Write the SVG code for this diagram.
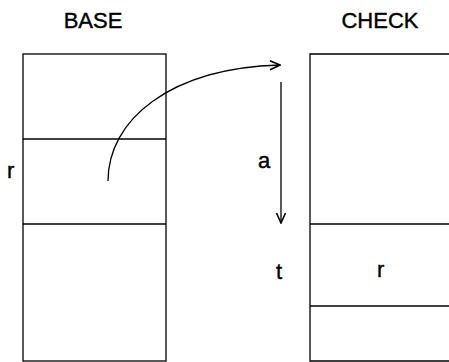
<svg xmlns="http://www.w3.org/2000/svg" width="449" height="362" viewBox="0 0 449 362">
<style>
.ln{fill:none;stroke:#000;stroke-width:1.3}
.tx{font-family:"Liberation Sans",Arial,sans-serif;font-size:22px;fill:#000;stroke:#000;stroke-width:0.4}
</style>
<defs>
<marker id="ah" viewBox="0 0 12 12" refX="11" refY="6" markerWidth="12" markerHeight="12" markerUnits="userSpaceOnUse" orient="auto">
<path d="M1,1.5 L11,6 L1,10.5" fill="none" stroke="#000" stroke-width="1.6"/>
</marker>
</defs>
<rect width="449" height="362" fill="#fff"/>
<g id="base">
<rect class="ln" x="23" y="54" width="143" height="307"/>
<line class="ln" x1="23" y1="139" x2="166" y2="139"/>
<line class="ln" x1="23" y1="224" x2="166" y2="224"/>
<text class="tx" x="93" y="28" text-anchor="middle">BASE</text>
<text class="tx" x="7" y="178">r</text>
</g>
<g id="check">
<path class="ln" d="M449,54 H310 V361 H449"/>
<line class="ln" x1="310" y1="224" x2="449" y2="224"/>
<line class="ln" x1="310" y1="306" x2="449" y2="306"/>
<text class="tx" x="380" y="28" text-anchor="middle">CHECK</text>
<text class="tx" x="377" y="277">r</text>
</g>
<g id="labels">
<text class="tx" x="258" y="168">a</text>
<text class="tx" x="276" y="279">t</text>
</g>
<g id="connectors">
<path class="ln" d="M108,181 C108,120 170,68 280,65" marker-end="url(#ah)"/>
<line class="ln" x1="281" y1="82" x2="281" y2="223" marker-end="url(#ah)"/>
</g>
</svg>
